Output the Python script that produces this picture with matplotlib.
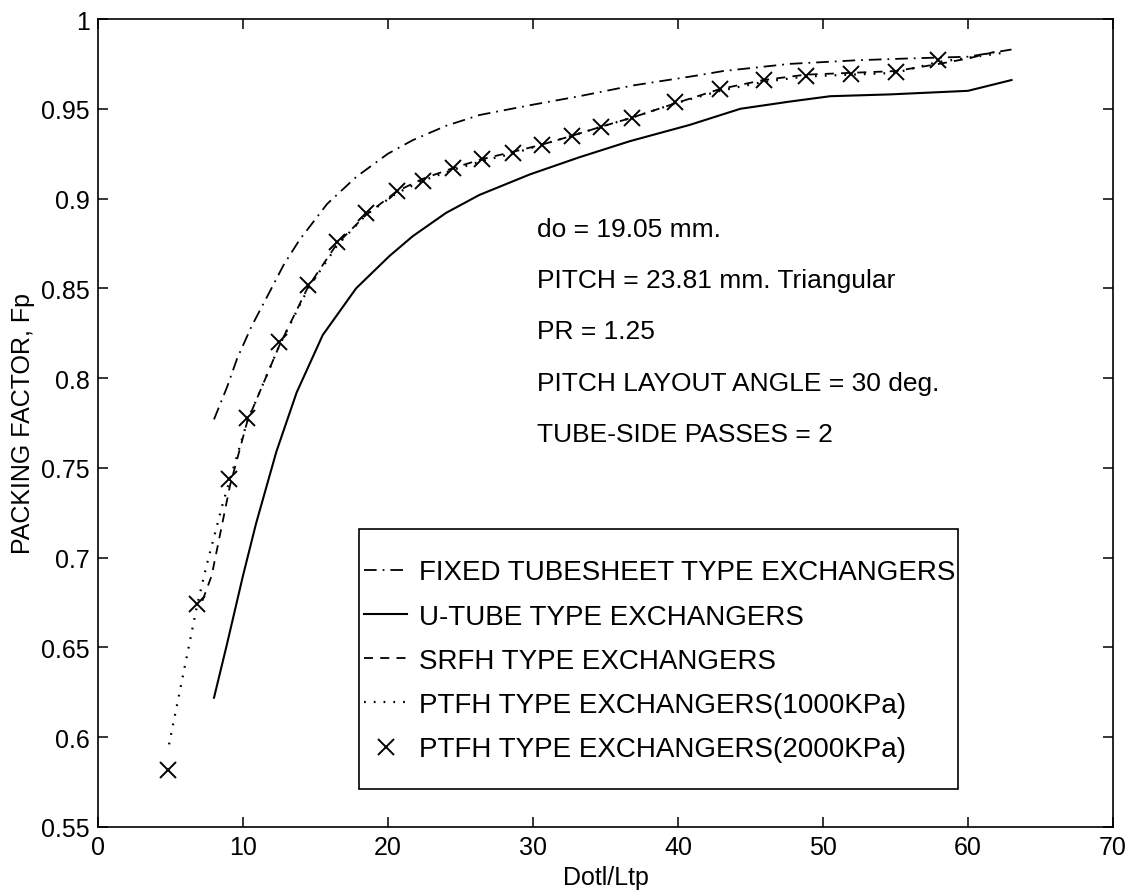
import matplotlib
matplotlib.use("Agg")
import matplotlib.pyplot as plt
from matplotlib.patches import Rectangle

plt.rcParams["font.family"] = ["Liberation Sans", "DejaVu Sans"]

# --- data ---------------------------------------------------------------
fixed_x = [8.0, 8.9, 9.6, 10.6, 11.9, 12.8, 13.9, 15.8, 17.8, 20.0, 21.7, 24.0,
           26.3, 29.8, 33.2, 36.9, 41.3, 43.1, 47.7, 52.3, 55.8, 60.0, 63.0]
fixed_y = [0.777, 0.795, 0.811, 0.829, 0.849, 0.863, 0.877, 0.897, 0.912, 0.925,
           0.9325, 0.9405, 0.9465, 0.952, 0.957, 0.963, 0.9685, 0.971, 0.975,
           0.977, 0.978, 0.979, 0.983]

utube_x = [8.0, 8.9, 10.0, 10.9, 12.3, 13.7, 15.5, 17.8, 20.1, 21.7, 24.0, 26.3,
           29.8, 33.2, 36.7, 40.8, 44.3, 47.7, 50.5, 54.6, 60.0, 63.0]
utube_y = [0.622, 0.652, 0.690, 0.719, 0.759, 0.792, 0.824, 0.850, 0.868, 0.879,
           0.892, 0.902, 0.9135, 0.923, 0.932, 0.941, 0.950, 0.954, 0.957, 0.958,
           0.960, 0.966]

srfh_x = [7.2, 7.84, 9.1, 10.3, 12.5, 14.5, 16.5, 18.5, 20.6, 22.4, 24.5, 26.5,
          28.6, 30.6, 32.7, 34.7, 36.8, 39.8, 42.9, 45.9, 48.8, 51.9, 55.0, 58.0,
          60.0, 62.0]
srfh_y = [0.676, 0.690, 0.740, 0.776, 0.818, 0.851, 0.875, 0.891, 0.904, 0.911,
          0.917, 0.922, 0.926, 0.930, 0.935, 0.940, 0.945, 0.953, 0.961, 0.966,
          0.969, 0.970, 0.971, 0.975, 0.978, 0.982]

ptfh1_x = [4.9, 6.85, 7.5, 8.6, 10.3, 12.5, 14.5, 16.5, 18.5, 20.6, 22.4, 24.5,
           26.5, 28.6, 30.6, 32.7, 34.7, 36.8, 39.8, 42.9, 45.9, 48.8, 51.9, 55.0,
           57.9, 62.7]
ptfh1_y = [0.596, 0.674, 0.696, 0.730, 0.776, 0.818, 0.850, 0.874, 0.891, 0.903,
           0.910, 0.916, 0.921, 0.925, 0.930, 0.935, 0.940, 0.945, 0.953, 0.960,
           0.965, 0.968, 0.969, 0.970, 0.976, 0.9815]

ptfh2_x = [4.8, 6.85, 9.0, 10.3, 12.5, 14.5, 16.5, 18.5, 20.6, 22.4, 24.5, 26.5,
           28.6, 30.6, 32.7, 34.7, 36.8, 39.8, 42.9, 45.9, 48.8, 51.9, 55.0, 57.9]
ptfh2_y = [0.582, 0.674, 0.744, 0.778, 0.820, 0.852, 0.876, 0.892, 0.904, 0.910,
           0.917, 0.922, 0.9255, 0.930, 0.935, 0.940, 0.945, 0.954, 0.961, 0.966,
           0.9685, 0.9694, 0.9703, 0.977]

labels = ["FIXED TUBESHEET TYPE EXCHANGERS",
          "U-TUBE TYPE EXCHANGERS",
          "SRFH TYPE EXCHANGERS",
          "PTFH TYPE EXCHANGERS(1000KPa)",
          "PTFH TYPE EXCHANGERS(2000KPa)"]

notes = ["do = 19.05 mm.",
         "PITCH = 23.81 mm. Triangular",
         "PR = 1.25",
         "PITCH LAYOUT ANGLE = 30 deg.",
         "TUBE-SIDE PASSES = 2"]

x_ticks = [0, 10, 20, 30, 40, 50, 60, 70]
y_ticks = [0.55, 0.6, 0.65, 0.7, 0.75, 0.8, 0.85, 0.9, 0.95, 1.0]
y_ticklabels = ["0.55", "0.6", "0.65", "0.7", "0.75", "0.8", "0.85", "0.9", "0.95", "1"]

# --- figure --------------------------------------------------------------
FS = 19
fig = plt.figure(figsize=(11.26, 8.95), dpi=100, facecolor="white")
ax = fig.add_axes([98 / 1126, 67 / 895, 1015 / 1126, 808 / 895])

lw = 1.3
h_fixed, = ax.plot(fixed_x, fixed_y, color="black", lw=lw,
                   linestyle=(0, (7, 3.3, 1, 3.3)))
h_utube, = ax.plot(utube_x, utube_y, color="black", lw=lw + 0.2, linestyle="-")
h_srfh, = ax.plot(srfh_x, srfh_y, color="black", lw=lw, linestyle=(0, (5, 4)))
h_ptfh1, = ax.plot(ptfh1_x, ptfh1_y, color="black", lw=1.6,
                   linestyle=(0, (0.8, 3.6)))
h_ptfh2, = ax.plot(ptfh2_x, ptfh2_y, color="black", lw=0, marker="x",
                   markersize=11, markeredgewidth=1.4)

ax.set_xlim(0, 70)
ax.set_ylim(0.55, 1.0)
ax.set_xticks(x_ticks)
ax.set_xticklabels([str(t) for t in x_ticks], fontsize=FS - 1)
ax.set_yticks(y_ticks)
ax.set_yticklabels(y_ticklabels, fontsize=FS - 1)
ax.tick_params(direction="in", length=7, width=1.1, top=True, right=True,
               pad=6)
for sp in ax.spines.values():
    sp.set_linewidth(1.2)

ax.set_xlabel("Dotl/Ltp", fontsize=FS - 1, labelpad=4)
ax.set_ylabel("PACKING FACTOR, Fp", fontsize=FS - 1, labelpad=4)

# annotation block
note_y = [0.883, 0.8545, 0.826, 0.7975, 0.769]
for txt, yy in zip(notes, note_y):
    ax.text(30.3, yy, txt, fontsize=FS, va="center", ha="left")

# legend in a MATLAB style box
ax.add_patch(Rectangle((0.257, 0.047), 0.59, 0.322, transform=ax.transAxes,
                       fill=False, edgecolor="black", lw=1.2, zorder=5))
ax.legend([h_fixed, h_utube, h_srfh, h_ptfh1, h_ptfh2], labels,
          loc="upper left", bbox_to_anchor=(0.257, 0.338), frameon=False,
          fontsize=20, handlelength=1.55, handletextpad=0.4, labelspacing=0.655,
          borderpad=0.2, borderaxespad=0.0)

fig.savefig("out.png", dpi=100, facecolor="white")
